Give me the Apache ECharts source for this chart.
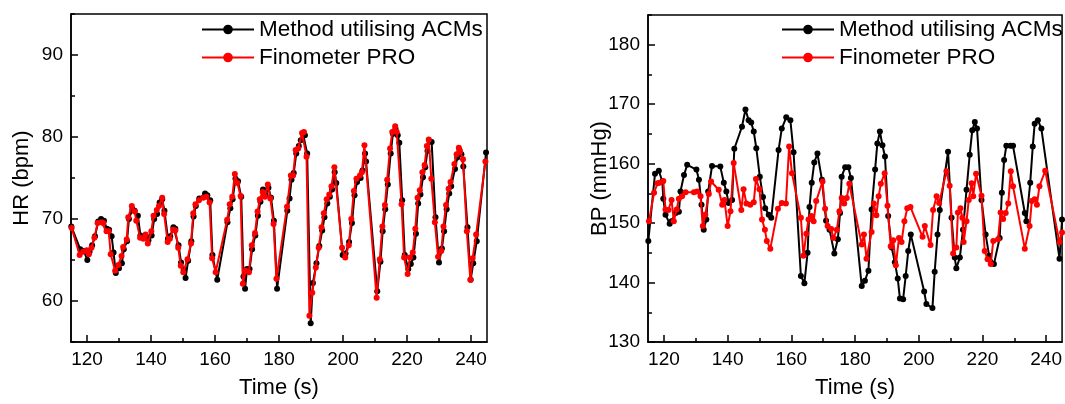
<!DOCTYPE html>
<html><head><meta charset="utf-8">
<script src="https://cdn.jsdelivr.net/npm/echarts@6/dist/echarts.min.js"></script>
<style>html,body{margin:0;padding:0;background:#fff}#c{width:1065px;height:404px}</style>
</head><body><div id="c"></div>
<script>
var seriesNames = ['Method utilising ACMs', 'Finometer PRO'];
var xLabelTicks = [120, 140, 160, 180, 200, 220, 240];
var xMinorTicks = [120, 130, 140, 150, 160, 170, 180, 190, 200, 210, 220, 230, 240];
var hrLabelTicks = [60, 70, 80, 90];
var bpLabelTicks = [130, 140, 150, 160, 170, 180];

var hrACM = [[115.1,69.1],[117.9,66.3],[119.0,66.1],[120.1,65.0],[120.8,66.0],[121.6,66.8],[122.5,67.9],[123.5,69.7],[124.4,70.0],[125.3,69.8],[126.2,68.8],[126.9,68.7],[127.7,67.9],[128.3,65.9],[129.0,63.4],[130.0,64.0],[130.9,64.6],[131.5,66.3],[132.5,67.3],[133.1,70.0],[134.2,71.2],[134.9,71.0],[135.9,70.4],[136.7,68.0],[137.7,67.8],[138.4,67.9],[139.2,67.4],[140.2,68.0],[141.0,70.0],[141.9,70.6],[142.7,72.0],[143.5,72.4],[144.2,71.0],[145.3,67.6],[146.0,67.9],[147.0,69.0],[147.6,68.8],[148.6,66.8],[149.4,64.7],[150.2,63.8],[150.8,62.8],[151.6,64.9],[152.6,67.3],[153.3,70.3],[154.0,71.6],[155.1,72.5],[156.9,73.1],[157.6,72.9],[158.5,72.3],[159.2,65.6],[160.7,62.6],[163.9,69.6],[164.8,71.3],[165.5,72.4],[166.4,74.9],[167.2,74.6],[168.2,72.7],[168.9,63.0],[169.4,61.5],[170.0,63.9],[170.8,63.9],[171.6,66.3],[172.6,68.0],[173.4,70.4],[174.2,72.1],[175.0,73.6],[175.8,72.9],[176.7,73.8],[177.5,72.6],[178.4,69.8],[179.4,61.5],[182.6,71.0],[183.3,72.5],[183.9,74.8],[184.6,75.6],[185.4,78.0],[186.2,78.9],[186.8,79.6],[187.5,80.4],[188.1,80.2],[188.8,78.0],[189.9,57.3],[190.6,62.2],[191.7,64.6],[192.6,66.7],[193.5,68.6],[194.2,70.2],[195.1,71.9],[195.9,72.7],[196.6,73.6],[197.4,75.7],[197.9,74.4],[199.9,65.6],[200.8,65.8],[201.9,67.2],[202.8,69.5],[203.6,72.9],[204.4,74.5],[205.5,75.0],[206.1,75.9],[206.9,78.0],[207.2,77.0],[210.7,61.2],[211.7,64.8],[212.4,68.5],[213.2,71.2],[214.0,74.2],[214.9,78.0],[215.6,80.4],[216.4,81.0],[217.1,80.2],[217.6,79.3],[218.5,72.3],[219.3,65.6],[220.4,63.9],[221.2,64.5],[222.0,65.3],[222.8,68.2],[223.5,71.9],[224.2,73.0],[225.0,75.1],[225.7,76.3],[226.4,78.3],[227.0,79.5],[227.7,79.4],[228.9,70.2],[230.0,64.7],[230.9,66.4],[231.6,68.5],[232.4,71.2],[233.2,73.1],[233.8,74.0],[235.0,76.1],[235.7,77.5],[236.4,78.4],[237.0,77.9],[237.6,76.4],[238.9,69.0],[239.9,62.6],[240.7,64.6],[241.8,67.3],[244.7,78.1]];

var hrFino = [[115.2,68.9],[117.7,65.6],[118.8,66.0],[119.9,66.2],[120.6,65.7],[121.4,66.5],[122.3,67.7],[123.3,69.5],[124.5,69.6],[125.1,69.5],[126.1,68.5],[126.8,68.5],[127.4,65.7],[128.8,63.7],[129.8,64.4],[130.8,65.5],[131.3,66.6],[132.4,67.5],[132.9,70.2],[134.0,71.6],[134.9,70.9],[135.4,69.8],[136.6,67.7],[137.6,67.6],[138.3,68.1],[139.0,67.0],[140.1,68.5],[140.8,70.4],[141.8,71.1],[142.5,71.6],[143.5,72.6],[144.1,70.6],[145.2,67.2],[145.9,67.6],[146.9,68.7],[147.6,68.6],[148.5,66.5],[149.3,64.3],[150.1,63.5],[151.4,65.1],[152.5,67.0],[153.2,70.7],[153.9,71.8],[155.0,72.3],[156.3,72.6],[157.3,72.7],[158.3,72.0],[159.1,65.2],[160.2,63.5],[163.8,69.9],[164.6,71.8],[165.4,72.7],[166.2,75.5],[167.0,74.4],[168.0,72.8],[168.7,62.1],[169.6,63.7],[170.6,63.5],[171.5,66.8],[172.5,68.3],[173.3,70.9],[174.0,72.4],[174.9,73.3],[175.6,72.7],[176.5,74.2],[177.3,72.5],[178.3,69.4],[179.2,62.7],[182.5,71.5],[183.7,75.3],[184.4,75.3],[185.2,78.4],[186.0,78.6],[187.2,80.5],[187.8,80.6],[188.6,77.6],[189.5,58.2],[190.4,61.0],[191.5,64.1],[192.4,66.5],[193.3,69.0],[194.0,70.7],[194.9,72.4],[195.7,73.0],[196.4,74.0],[197.3,76.3],[199.7,66.5],[200.7,65.3],[201.8,66.8],[202.6,70.0],[203.4,73.4],[204.2,74.9],[205.3,75.3],[205.9,75.7],[206.7,79.0],[210.5,60.4],[211.5,65.1],[212.3,69.1],[213.1,71.7],[213.8,74.8],[214.7,78.6],[215.4,80.6],[216.3,81.3],[216.8,80.6],[218.3,71.8],[219.1,65.3],[220.2,63.3],[220.9,65.3],[221.8,65.9],[222.6,68.8],[223.3,72.6],[224.0,73.5],[224.8,75.7],[225.5,76.6],[226.2,78.9],[226.8,79.7],[227.6,74.9],[228.7,69.6],[229.7,65.4],[230.7,66.1],[231.4,69.1],[232.2,71.7],[233.0,73.7],[233.6,74.5],[234.8,76.7],[235.5,77.9],[236.2,78.7],[236.6,78.2],[237.5,77.3],[238.7,68.5],[239.8,62.6],[240.5,65.2],[241.6,68.1],[244.5,77.0]];

var bpACM = [[115.1,147.0],[117.2,158.3],[118.4,158.8],[119.5,157.0],[119.8,154.1],[120.5,151.4],[121.8,149.9],[122.4,150.3],[123.7,151.7],[124.7,151.9],[125.2,155.3],[126.3,158.1],[127.3,159.8],[130.2,159.0],[131.0,157.3],[131.8,153.1],[132.5,148.9],[133.3,150.6],[133.9,155.3],[135.1,159.6],[137.7,159.5],[138.8,156.8],[139.6,155.3],[140.3,153.4],[141.4,153.9],[142.1,162.5],[144.5,166.2],[145.6,169.1],[146.6,167.3],[147.4,166.9],[148.2,165.4],[149.0,162.6],[150.1,157.8],[151.1,154.4],[151.8,152.5],[152.9,151.4],[153.7,150.9],[156.0,162.3],[157.0,165.9],[158.4,167.8],[159.7,167.3],[160.7,161.9],[163.0,141.1],[164.1,139.9],[165.1,145.0],[165.7,152.7],[166.4,156.8],[167.2,160.2],[168.2,161.7],[169.6,157.3],[170.9,150.4],[172.0,148.9],[173.5,144.9],[174.6,147.3],[175.3,151.7],[175.8,157.8],[176.9,159.4],[177.9,159.4],[178.7,157.6],[182.1,139.4],[183.1,140.3],[184.2,142.0],[185.2,152.3],[186.3,159.0],[187.0,163.4],[187.8,165.4],[188.6,163.1],[189.4,161.2],[190.4,151.2],[191.5,145.9],[192.5,143.4],[193.4,140.7],[194.1,137.3],[195.1,137.2],[195.9,141.1],[196.7,145.3],[197.5,148.1],[201.7,138.5],[202.4,136.4],[204.3,135.7],[205.0,141.8],[205.9,148.1],[206.6,152.2],[209.2,162.0],[210.3,150.9],[211.3,144.2],[211.8,142.4],[212.9,144.2],[213.9,148.9],[215.0,155.6],[216.0,161.5],[216.8,165.6],[217.6,167.0],[218.3,165.9],[219.7,153.9],[221.0,148.1],[222.1,144.5],[223.6,143.1],[225.4,147.5],[226.1,155.1],[226.8,160.6],[227.5,163.0],[228.8,163.0],[229.6,163.0],[233.3,151.7],[233.8,150.3],[235.0,156.8],[235.8,162.9],[236.4,166.7],[237.4,167.3],[238.5,165.9],[244.2,144.0],[245.0,150.6]];

var bpFino = [[115.3,150.3],[116.9,155.1],[118.0,156.7],[118.6,156.8],[119.8,157.1],[120.5,152.3],[121.4,152.2],[122.4,153.9],[123.1,150.3],[124.0,152.3],[124.7,154.1],[125.7,154.5],[126.8,155.2],[129.4,155.2],[130.4,155.3],[131.5,154.5],[132.2,149.5],[133.0,151.4],[134.1,154.9],[134.8,157.0],[137.2,155.6],[138.3,153.1],[139.0,153.9],[140.0,149.5],[140.9,152.0],[141.9,160.1],[144.3,152.2],[145.0,155.7],[145.9,153.3],[147.1,153.1],[148.2,153.5],[148.9,157.4],[150.0,155.7],[150.8,150.6],[151.7,148.9],[152.3,147.0],[153.4,145.7],[155.8,152.4],[157.0,153.4],[158.3,153.3],[159.3,162.9],[160.2,158.4],[163.0,150.9],[163.8,144.5],[164.7,148.2],[165.4,150.6],[166.3,151.2],[167.0,150.3],[167.8,153.7],[169.8,157.0],[170.6,152.4],[171.4,149.5],[172.5,149.0],[173.2,147.5],[174.3,148.9],[175.1,152.0],[175.8,154.2],[176.6,153.3],[177.4,154.2],[178.2,156.6],[182.1,146.4],[182.8,148.1],[183.6,144.0],[185.2,148.5],[185.9,153.3],[186.7,151.3],[187.4,154.5],[188.1,156.6],[189.3,158.4],[190.2,152.9],[191.2,146.1],[192.0,147.1],[192.8,142.9],[193.8,147.5],[194.6,146.8],[195.5,150.3],[196.4,152.5],[197.4,152.7],[201.2,147.7],[201.9,149.5],[203.7,146.3],[204.5,152.2],[205.6,154.5],[206.4,153.4],[208.7,158.7],[209.7,156.3],[210.8,144.9],[211.8,145.9],[212.3,151.8],[213.1,152.5],[213.7,150.9],[214.1,146.8],[215.0,150.3],[215.7,153.9],[216.6,156.7],[217.1,154.5],[218.0,158.3],[219.7,154.6],[220.7,145.3],[221.6,143.9],[222.6,143.1],[223.4,147.0],[224.9,147.3],[225.7,151.8],[226.5,150.7],[227.3,151.7],[228.1,153.3],[228.9,158.7],[229.6,156.2],[233.3,145.7],[234.8,149.5],[235.5,153.7],[236.4,154.0],[237.1,153.1],[237.9,156.2],[239.7,158.8],[244.2,146.8],[245.0,148.4]];

var FONT = 'Liberation Sans, Arial, sans-serif';
var chart = echarts.init(document.getElementById('c'), null, {renderer: 'canvas'});

function mainX(gi) {
  return {gridIndex: gi, type: 'value', min: 115, max: 245,
    name: 'Time (s)', nameLocation: 'middle', nameGap: 35,
    nameTextStyle: {fontFamily: FONT, fontSize: 22, color: '#000'},
    axisLine: {show: true, lineStyle: {color: '#000', width: 1.5}},
    axisTick: {show: true, inside: true, length: 7, customValues: xLabelTicks, lineStyle: {color: '#000', width: 1.5}},
    axisLabel: {customValues: xLabelTicks, fontFamily: FONT, fontSize: 19, color: '#000', margin: 8},
    splitLine: {show: false}};
}
function minorX(gi) {
  return {gridIndex: gi, type: 'value', min: 115, max: 245, position: 'bottom',
    axisLine: {show: false},
    axisTick: {show: true, inside: true, length: 4, customValues: xMinorTicks, lineStyle: {color: '#000', width: 1.5}},
    axisLabel: {show: false}, splitLine: {show: false}};
}
function mainY(gi, mn, mx, labels, name, gap) {
  return {gridIndex: gi, type: 'value', min: mn, max: mx,
    name: name, nameLocation: 'middle', nameGap: gap, nameMoveOverlap: false,
    nameTextStyle: {fontFamily: FONT, fontSize: 22, color: '#000'},
    axisLine: {show: true, lineStyle: {color: '#000', width: 1.5}},
    axisTick: {show: true, inside: true, length: 7, customValues: labels, lineStyle: {color: '#000', width: 1.5}},
    axisLabel: {customValues: labels, fontFamily: FONT, fontSize: 19, color: '#000', margin: 8},
    splitLine: {show: false}};
}
function minorY(gi, mn, mx) {
  return {gridIndex: gi, type: 'value', min: mn, max: mx, interval: 5, position: 'left',
    axisLine: {show: false},
    axisTick: {show: true, inside: true, length: 4, lineStyle: {color: '#000', width: 1.5}},
    axisLabel: {show: false}, splitLine: {show: false}};
}
function ser(name, data, xi, yi, color, z) {
  return {name: name, type: 'line', xAxisIndex: xi, yAxisIndex: yi, data: data,
    symbol: 'circle', symbolSize: 6, showSymbol: true, z: z,
    lineStyle: {color: color, width: 2}, itemStyle: {color: color}};
}
function legend(left) {
  return {left: left, top: 13, orient: 'vertical', itemWidth: 52, itemHeight: 12, itemGap: 5,
    data: seriesNames, textStyle: {fontFamily: FONT, fontSize: 22.5, color: '#000'}, selectedMode: false};
}

chart.setOption({
  animation: false,
  backgroundColor: '#fff',
  grid: [
    {left: 71, right: 578, top: 14, bottom: 60, show: true, borderColor: '#000', borderWidth: 1.5, containLabel: false},
    {left: 648, right: 2, top: 15, bottom: 61, show: true, borderColor: '#000', borderWidth: 1.5, containLabel: false}
  ],
  xAxis: [mainX(0), minorX(0), mainX(1), minorX(1)],
  yAxis: [mainY(0, 55, 95, hrLabelTicks, 'HR (bpm)', 38), minorY(0, 55, 95),
          mainY(1, 130, 185, bpLabelTicks, 'BP (mmHg)', 37), minorY(1, 130, 185)],
  legend: [legend(196), legend(776)],
  series: [
    ser(seriesNames[0], hrACM, 0, 0, '#000000', 2),
    ser(seriesNames[1], hrFino, 0, 0, '#ff0000', 3),
    ser(seriesNames[0], bpACM, 2, 2, '#000000', 2),
    ser(seriesNames[1], bpFino, 2, 2, '#ff0000', 3)
  ]
});
</script></body></html>
